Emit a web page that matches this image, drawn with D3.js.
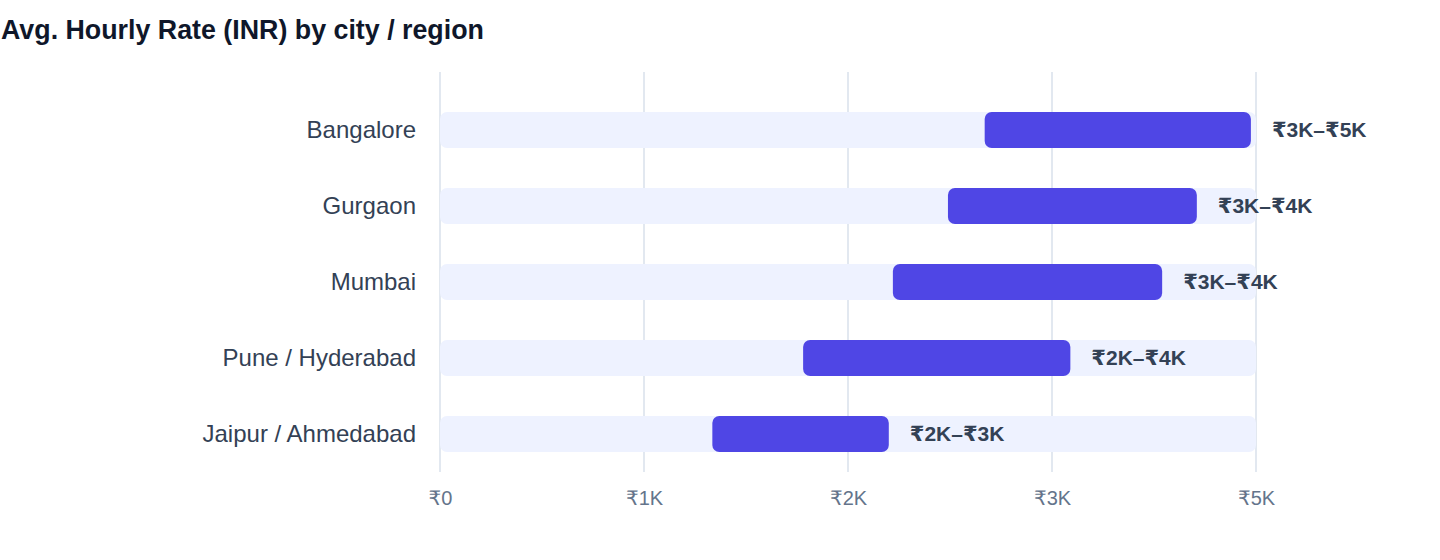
<!DOCTYPE html>
<html>
<head>
<meta charset="utf-8">
<script src="https://cdn.jsdelivr.net/npm/d3@7"></script>
<style>
  body { margin: 0; background: #ffffff; }
  text { font-family: "Helvetica Neue", Helvetica, Arial, "Liberation Sans", "DejaVu Sans", sans-serif; }
</style>
</head>
<body>
<div id="chart"></div>
<script>

// Data
let cities = ["Bangalore", "Gurgaon", "Mumbai", "Pune / Hyderabad", "Jaipur / Ahmedabad"];
let lowRates = [2670, 2490, 2220, 1780, 1335];
let highRates = [3975, 3710, 3540, 3090, 2200];
let rangeLabels = ["₹3K–₹5K", "₹3K–₹4K", "₹3K–₹4K", "₹2K–₹4K", "₹2K–₹3K"];
let tickValues = [0, 1000, 2000, 3000, 4000];
let tickLabels = ["₹0", "₹1K", "₹2K", "₹3K", "₹5K"];

let rows = cities.map(function (c, i) {
  return { city: c, low: lowRates[i], high: highRates[i], label: rangeLabels[i] };
});

let svg = d3.select("#chart").append("svg")
  .attr("width", 1440)
  .attr("height", 560);

let x = d3.scaleLinear()
  .domain([0, 4000])
  .range([440, 1256]);

let pad = 40 / 76;
let y = d3.scaleBand()
  .domain(cities)
  .range([92, 472])
  .paddingInner(pad)
  .paddingOuter(pad / 2);

// title
svg.append("text")
  .attr("x", 1)
  .attr("y", 39)
  .style("font-size", "26.8px")
  .style("font-weight", "bold")
  .style("fill", "#0f172a")
  .text("Avg. Hourly Rate (INR) by city / region");

// vertical grid lines
svg.append("g")
  .selectAll("line")
  .data(tickValues)
  .enter()
  .append("line")
  .attr("x1", function (d) { return x(d); })
  .attr("x2", function (d) { return x(d); })
  .attr("y1", 72)
  .attr("y2", 472)
  .style("stroke", "#e2e8f0")
  .style("stroke-width", 2);

// x axis, tick labels only
let xAxis = d3.axisBottom(x)
  .tickValues(tickValues)
  .tickSize(0)
  .tickPadding(0)
  .tickFormat(function (d, i) { return tickLabels[i]; });

svg.append("g")
  .attr("transform", "translate(0,491)")
  .call(xAxis)
  .call(function (g) { g.select(".domain").remove(); })
  .call(function (g) {
    g.selectAll("text")
     .attr("dy", "0.71em")
     .style("font-size", "20px")
     .style("font-family", null)
     .style("fill", "#64748b");
  });

// city labels
let yAxis = d3.axisLeft(y)
  .tickSize(0)
  .tickPadding(0);

svg.append("g")
  .attr("transform", "translate(416,0)")
  .call(yAxis)
  .call(function (g) { g.select(".domain").remove(); })
  .call(function (g) {
    g.selectAll("text")
     .style("font-size", "24px")
     .style("font-family", null)
     .style("fill", "#334155");
  });

// background tracks
svg.append("g")
  .selectAll("rect")
  .data(rows)
  .enter()
  .append("rect")
  .call(makeTracks);

function makeTracks(selection) {
  selection.attr("x", x(0))
           .attr("y", function (d) { return y(d.city); })
           .attr("width", x(4000) - x(0))
           .attr("height", y.bandwidth())
           .attr("rx", 7)
           .style("fill", "#eef2ff");
}

// range bars
svg.append("g")
  .selectAll("rect")
  .data(rows)
  .enter()
  .append("rect")
  .call(makeBars);

function makeBars(selection) {
  selection.attr("x", function (d) { return x(d.low); })
           .attr("y", function (d) { return y(d.city); })
           .attr("width", function (d) { return x(d.high) - x(d.low); })
           .attr("height", y.bandwidth())
           .attr("rx", 7)
           .style("fill", "#4f46e5");
}

// value labels
svg.append("g")
  .selectAll("text")
  .data(rows)
  .enter()
  .append("text")
  .attr("x", function (d) { return x(d.high) + 21; })
  .attr("y", function (d) { return y(d.city) + y.bandwidth() / 2; })
  .attr("dy", "0.35em")
  .style("font-size", "21px")
  .style("font-weight", "bold")
  .style("fill", "#334155")
  .text(function (d) { return d.label; });

</script>
</body>
</html>
